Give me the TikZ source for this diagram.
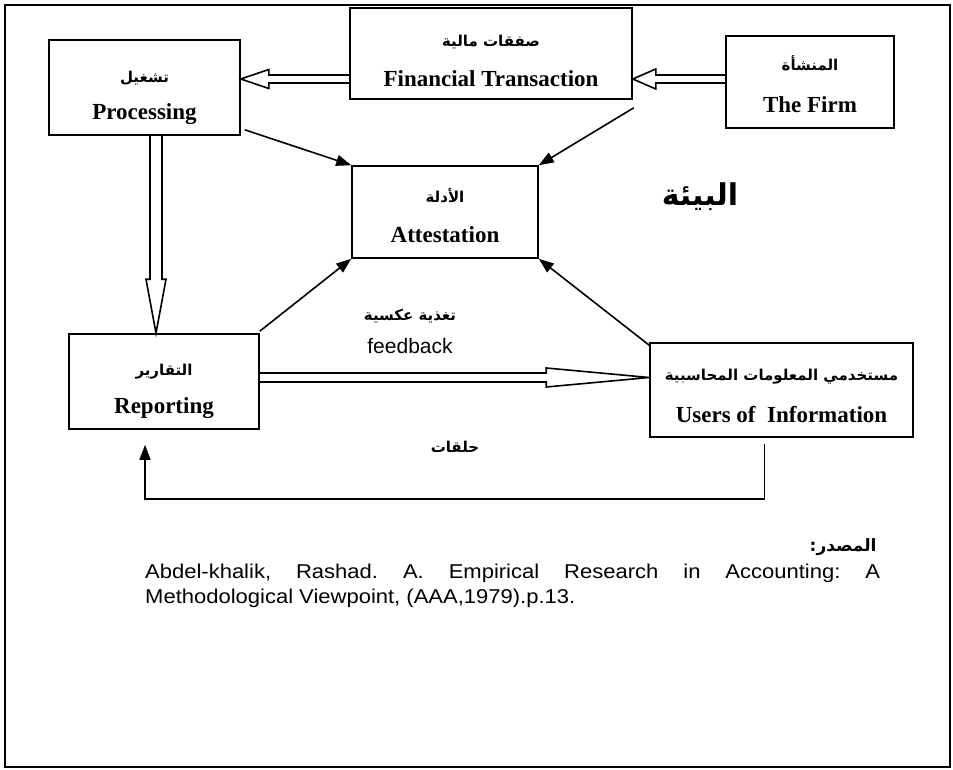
\documentclass[tikz,border=0pt]{standalone}
\usepackage{fontspec}
\setmainfont{Liberation Serif}
\newfontfamily\arabicfont[Script=Arabic]{DejaVu Sans}
\newfontfamily\citefont[FakeStretch=1.1]{Liberation Sans}
\newfontfamily\fbfont{Liberation Sans}
\TeXXeTstate=1
\usetikzlibrary{arrows.meta,calc}

\tikzset{
  box/.style={draw, line width=1.6pt, inner sep=0pt},
  arlabel/.style={anchor=base, font=\arabicfont\bfseries\fontsize{15}{18}\selectfont},
  enlabel/.style={anchor=base, font=\bfseries\fontsize{23}{27}\selectfont},
  arr/.style={line width=1.6pt, -{Triangle[length=15pt,width=11pt]}},
  fat/.style={line width=1.6pt},
}

% hollow double arrow: from, to, shaft half width, head length, head half width
\newcommand{\fatarrow}[5]{%
  \draw[fat] let \p1=(#1), \p2=(#2), \n1={atan2(\y2-\y1,\x2-\x1)}, \n2={veclen(\x2-\x1,\y2-\y1)} in
    {[shift={(\p1)}, rotate=\n1] (0pt,#3) -- (\n2-#4,#3) -- (\n2-#4,#5) -- (\n2,0pt)
      -- (\n2-#4,-#5) -- (\n2-#4,-#3) -- (0pt,-#3)};
}

\begin{document}
\begin{tikzpicture}[x=1pt,y=-1pt]
\useasboundingbox (0,0) rectangle (953,770);
\draw[line width=1.6pt] (5,5) rectangle (950,767);

% boxes
\node[box, minimum width=191pt, minimum height=95pt] (proc) at (144.5,87.5) {};
\node[box, minimum width=282pt, minimum height=91pt] (ft) at (491,53.5) {};
\node[box, minimum width=168pt, minimum height=92pt] (firm) at (810,82) {};
\node[box, minimum width=186pt, minimum height=92pt] (attest) at (445,212) {};
\node[box, minimum width=190pt, minimum height=95pt] (rep) at (164,381.5) {};
\node[box, minimum width=263pt, minimum height=94pt] (users) at (781.5,390) {};

% labels
\node[arlabel] (procA) at ($(proc)+(0,-5)$) {\beginR تشغيل\endR};
\node[enlabel] (procE) at ($(proc)+(0,32)$) {Processing};
\node[arlabel] (ftA) at ($(ft)+(0,-7)$) {\beginR صفقات مالية\endR};
\node[enlabel] (ftE) at ($(ft)+(0,33)$) {Financial Transaction};
\node[arlabel] (firmA) at ($(firm)+(0,-11)$) {\beginR المنشأة\endR};
\node[enlabel] (firmE) at ($(firm)+(0,31)$) {The Firm};
\node[arlabel] (attestA) at ($(attest)+(0,-9)$) {\beginR الأدلة\endR};
\node[enlabel] (attestE) at ($(attest)+(0,31)$) {Attestation};
\node[arlabel] (repA) at ($(rep)+(0,-6)$) {\beginR التقارير\endR};
\node[enlabel] (repE) at ($(rep)+(0,31.5)$) {Reporting};
\node[arlabel] (usersA) at ($(users)+(0,-10)$) {\beginR مستخدمي المعلومات المحاسبية\endR};
\node[enlabel] (usersE) at ($(users)+(0,32)$) {Users of\ \ Information};

\node[arlabel] (fbA) at (410,320) {\beginR تغذية عكسية\endR};
\node[anchor=base, font=\fbfont\fontsize{21}{25}\selectfont] (fbE) at (410,353) {feedback};
\node[arlabel] (loop) at (455,452) {\beginR حلقات\endR};
\node[anchor=base, font=\arabicfont\bfseries\fontsize{30}{36}\selectfont] (env) at (700,206) {\beginR البيئة\endR};

% hollow arrows
\fatarrow{$(ft.west)+(0,25.5)$}{$(proc.east)+(0,-8.5)$}{4pt}{28pt}{9.5pt}
\fatarrow{$(firm.west)+(0,-3)$}{$(ft.east)+(0,25.5)$}{4pt}{23pt}{10pt}
\fatarrow{$(proc.south)+(11.5,0)$}{$(rep.north)+(-8,0)$}{6pt}{54pt}{10pt}
\fatarrow{$(rep.east)+(0,-4)$}{$(users.west)+(0,-12.5)$}{4.5pt}{103pt}{9.5pt}

% arrows to attestation
\draw[arr] ($(proc.south east)+(4,-6)$) -- (attest.north west);
\draw[arr] ($(ft.south east)+(1,8)$) -- (attest.north east);
\draw[arr] ($(rep.north east)+(0,-2)$) -- (attest.south west);
\draw[arr] ($(users.north west)+(0,3)$) -- (attest.south east);

% feedback loop
\draw[arr] ($(users.south)+(-17,6)$) |- ($(rep.south)+(-19,69)$) -- ($(rep.south)+(-19,15)$);

% source
\node[anchor=base east, font=\arabicfont\bfseries\fontsize{17}{20}\selectfont] (srcA) at (880,551) {\beginR المصدر:\endR};
\node[anchor=base west, inner sep=0pt, font=\citefont\fontsize{20}{25}\selectfont] (src) at (145,578)
  {\parbox[t]{735pt}{\frenchspacing\noindent Abdel-khalik, Rashad. A. Empirical Research in Accounting: A\linebreak
  Methodological Viewpoint, (AAA,1979).p.13.}};
\end{tikzpicture}
\end{document}
